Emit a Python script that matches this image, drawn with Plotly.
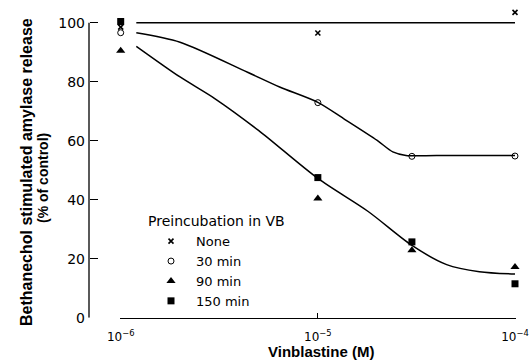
import plotly.graph_objects as go

# ---- data ----
conc_none = [1e-6, 1e-5, 1e-4]
val_none = [98.5, 96.5, 103.5]

conc = [1e-6, 1e-5, 3e-5, 1e-4]
val_30 = [96.6, 72.9, 54.7, 54.8]
val_90 = [90.5, 40.4, 22.9, 17.2]
val_150 = [100.4, 47.5, 25.7, 11.5]

# fitted curves as drawn in the figure
curve_none_x = [1.2e-6, 1e-4]
curve_none_y = [100.0, 100.0]
curve_30_x = [1.2e-6, 2e-6, 4.4e-6, 6.4e-6, 1e-5, 1.35e-5, 2e-5, 2.4e-5, 2.8e-5, 4e-5, 1e-4]
curve_30_y = [96.6, 93.4, 83.2, 78.2, 73.0, 67.5, 60.1, 56.2, 55.0, 55.0, 55.0]
curve_late_x = [1.2e-6, 2e-6, 3e-6, 5e-6, 1e-5, 1.8e-5, 3e-5, 4.5e-5, 6.6e-5, 1e-4]
curve_late_y = [92.0, 81.6, 74.3, 63.5, 47.2, 36.0, 24.5, 18.0, 15.6, 14.8]

x_tickvals = [1e-6, 1e-5, 1e-4]
x_ticktext = ["10<sup>−6</sup>", "10<sup>−5</sup>", "10<sup>−4</sup>"]
y_tickvals = [0, 20, 40, 60, 80, 100]
y_axis_end = [0, 100]
legend_names = ["None", "30 min", "90 min", "150 min"]

W, H = 531, 362
fig = go.Figure()

line_style = dict(color="black", width=1.5)
fig.add_trace(go.Scatter(x=curve_none_x, y=curve_none_y, mode="lines",
                         line=line_style, showlegend=False, hoverinfo="skip"))
for cx, cy in [(curve_30_x, curve_30_y), (curve_late_x, curve_late_y)]:
    fig.add_trace(go.Scatter(x=cx, y=cy, mode="lines", line=dict(shape="spline", smoothing=0.8, **line_style),
                             showlegend=False, hoverinfo="skip"))

fig.add_trace(go.Scatter(x=conc_none, y=val_none, mode="markers", name=legend_names[0],
                         marker=dict(symbol="x-thin", size=5, line=dict(color="black", width=1.6), color="black")))
fig.add_trace(go.Scatter(x=conc, y=val_30, mode="markers", name=legend_names[1],
                         marker=dict(symbol="circle-open", size=6, color="black", line=dict(width=1))))
fig.add_trace(go.Scatter(x=conc, y=val_90, mode="markers", name=legend_names[2],
                         marker=dict(symbol="triangle-up", size=8, color="black")))
fig.add_trace(go.Scatter(x=conc, y=val_150, mode="markers", name=legend_names[3],
                         marker=dict(symbol="square", size=7, color="black")))
for tr in fig.data:
    tr.cliponaxis = False

eps = 0.003  # tiny range padding so edge markers are not culled
dec = 197.15  # pixels per decade
x0, x1 = 120.7 - eps * dec, 515.0 + eps * dec
ytop, ybot = 22.7, 317.7
ppu = (ybot - ytop) / 100.0
ymax = 106  # headroom so the point above 100 is kept
ytop_ext = ybot - ymax * ppu
yaxis_px = 89.0

fig.update_layout(
    width=W, height=H,
    margin=dict(l=0, r=0, t=0, b=0, autoexpand=False),
    paper_bgcolor="white", plot_bgcolor="white",
    font=dict(family="DejaVu Sans", color="black"),
    xaxis=dict(type="log", range=[-6 - eps, -4 + eps], domain=[x0 / W, x1 / W],
               showgrid=False, zeroline=False, showline=True, linecolor="black", linewidth=1.3,
               ticks="inside", ticklen=5, tickwidth=1.3, tickcolor="black",
               tickvals=x_tickvals, ticktext=x_ticktext, tickfont=dict(size=12),
               ticklabelstandoff=8, automargin=False),
    yaxis=dict(range=[0, ymax], domain=[(H - ybot) / H, (H - ytop_ext) / H],
               anchor="free", position=yaxis_px / W, automargin=False,
               showgrid=False, zeroline=False, showline=False,
               ticks="inside", ticklen=8, tickwidth=1.3, tickcolor="black",
               tickvals=y_tickvals, tickfont=dict(size=14), ticklabelstandoff=4),
    shapes=[dict(type="line", xref="paper", yref="y", x0=yaxis_px / W, x1=yaxis_px / W,
                 y0=y_axis_end[0], y1=y_axis_end[1], line=dict(color="black", width=1.3))],
    showlegend=True,
    legend=dict(x=146 / W, y=(H - 208) / H, xanchor="left", yanchor="top",
                bgcolor="rgba(0,0,0,0)", borderwidth=0, tracegroupgap=0, itemwidth=40,
                font=dict(family="DejaVu Sans", size=13),
                title=dict(text="Preincubation in VB", font=dict(family="DejaVu Sans", size=14))),
    annotations=[
        dict(text="<b>Bethanechol stimulated amylase release</b>", xref="paper", yref="paper",
             x=26 / W, y=(H - 172) / H, textangle=-90, showarrow=False,
             font=dict(family="Liberation Sans", size=16), xanchor="center", yanchor="middle"),
        dict(text="<b>(% of control)</b>", xref="paper", yref="paper",
             x=43 / W, y=(H - 178) / H, textangle=-90, showarrow=False,
             font=dict(family="Liberation Sans", size=14), xanchor="center", yanchor="middle"),
        dict(text="<b>Vinblastine (M)</b>", xref="paper", yref="paper",
             x=321 / W, y=0, showarrow=False,
             font=dict(family="Liberation Sans", size=15), xanchor="center", yanchor="bottom"),
    ],
)

fig.write_html("out.html")
